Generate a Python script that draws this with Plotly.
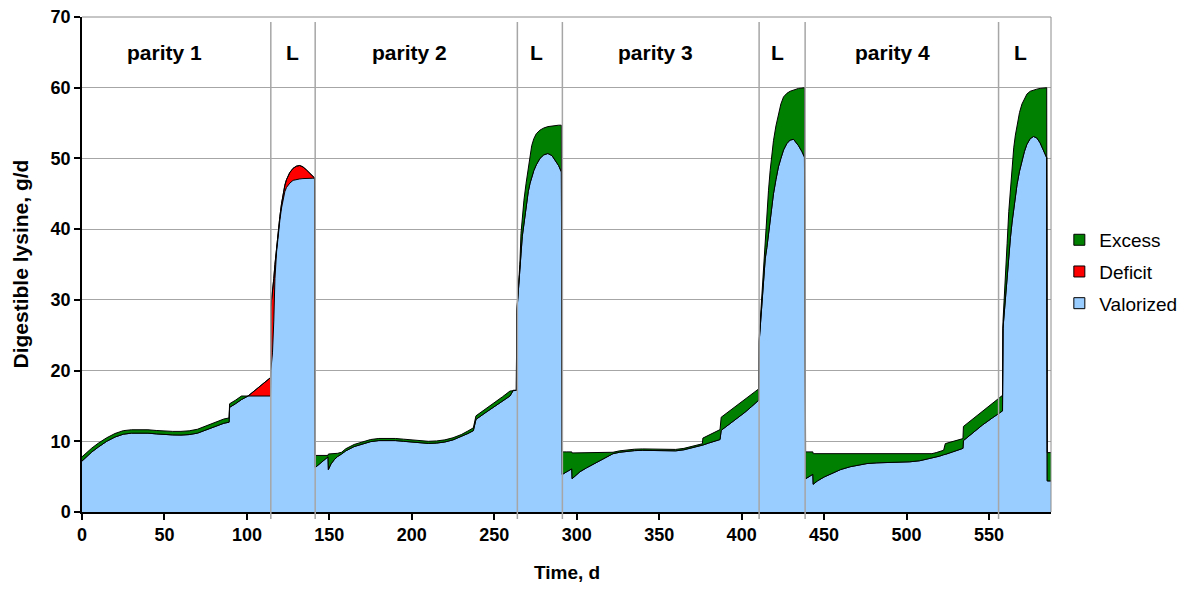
import plotly.graph_objects as go

# ---------------- data ----------------
# time in days
day = [
    # parity 1 gestation
    0, 3, 6, 10, 15, 20, 25, 30, 35, 40, 45, 50, 55, 60, 65, 70, 75, 80, 83.6, 86,
    89.2, 89.5, 93, 96.7, 100.7, 105, 110, 114.3,
    # lactation 1
    114.5, 115.5, 116.3, 117, 118, 119, 120, 121, 122, 123, 124, 126, 128, 130, 132,
    134, 136, 138, 140, 141.2,
    # parity 2 gestation
    141.5, 145, 149.2, 149.4, 151, 153, 155, 157.4, 160, 165, 170, 175, 180, 185, 190,
    195, 200, 205, 210, 215, 220, 225, 230, 234, 237.3, 238.9, 245, 250, 255, 259.5,
    261.5, 263.4,
    # lactation 2
    263.6, 264.5, 265.5, 266.2, 267.0, 268.0, 269.3, 270.6, 271.7, 272.7, 274, 275.5,
    277.7, 280, 282.5, 285, 287.5, 289, 290.7,
    # parity 3 gestation
    291.2, 294, 297.0, 297.2, 300, 302, 306, 310, 313, 316, 319, 322, 326, 330, 335,
    340, 345, 350, 355, 360, 365, 370, 374, 376.2, 376.5, 380, 384, 386.9, 387.6, 392,
    397, 402, 406, 410.3,
    # lactation 3
    410.6, 411.5, 412.3, 413.3, 414.3, 415.3, 416.3, 417.3, 418.3, 419.3, 420.8, 422.3,
    423.8, 425.4, 427.4, 429.4, 431.5, 434.5, 436.5, 438.1,
    # parity 4 gestation
    438.8, 441, 443.2, 443.4, 446, 450, 455.7, 460, 465.8, 470, 476, 482, 488, 496, 502,
    508, 512, 515.4, 518, 520, 522.5, 523.5, 528, 532.6, 534.2, 534.5, 540, 546, 552,
    558.2,
    # lactation 4 (+ start of next cycle)
    558.5, 559.3, 560.0, 561.0, 562.0, 563.0, 564.0, 565.0, 566.0, 567.0, 568.5, 570.0,
    571.5, 573.0, 575.0, 577.0, 579.0, 581.0, 583.0, 585.0, 585.3, 587.6,
]

# requirement (g/d digestible lysine)
requirement = [
    7.2, 7.9, 8.5, 9.2, 10.0, 10.6, 11.0, 11.15, 11.2, 11.15, 11.05, 10.95, 10.9, 10.88,
    10.95, 11.15, 11.6, 12.05, 12.4, 12.55, 12.7, 14.8, 15.3, 15.9, 16.4, 17.2, 18.1, 19.0,
    29, 31, 33, 35, 37.5, 39.8, 41.8, 43.6, 45.0, 46.2, 47.0, 48.0, 48.6, 48.9, 49.0,
    48.8, 48.4, 47.9, 47.4, 47.2,
    6.3, 7.0, 7.8, 6.0, 6.8, 7.4, 7.85, 8.2, 8.65, 9.25, 9.65, 9.95, 10.1, 10.15, 10.1,
    10.0, 9.9, 9.8, 9.7, 9.75, 9.9, 10.2, 10.65, 11.1, 11.5, 13.1, 14.1, 14.9, 15.7, 16.4,
    17.2, 17.2,
    28.0, 30.5, 34.0, 36.5, 39.0, 41.0, 43.5, 45.3, 46.5, 47.4, 48.3, 49.1, 50.0, 50.5,
    50.7, 50.4, 49.6, 49.0, 48.1,
    5.3, 5.7, 6.1, 4.7, 5.3, 5.7, 6.25, 6.75, 7.15, 7.6, 7.95, 8.25, 8.45, 8.58, 8.68,
    8.72, 8.7, 8.65, 8.62, 8.65, 8.8, 9.05, 9.3, 9.45, 9.47, 9.75, 10.05, 10.25, 11.55,
    12.3, 13.2, 14.1, 14.9, 15.8,
    24.0, 27.0, 30.0, 33.5, 35.8, 37.4, 39.5, 41.5, 43.3, 45.0, 47.0, 48.8, 50.0, 51.2,
    52.1, 52.6, 52.7, 51.8, 51.0, 50.2,
    4.7, 5.0, 5.33, 3.92, 4.4, 4.95, 5.6, 6.0, 6.4, 6.62, 6.85, 6.95, 7.0, 7.02, 7.1,
    7.25, 7.45, 7.65, 7.8, 7.9, 8.1, 8.15, 8.5, 8.9, 9.0, 10.1, 11.2, 12.3, 13.3, 14.3,
    26.0, 28.5, 30.5, 33.8, 36.5, 38.8, 41.0, 43.0, 44.8, 46.3, 48.2, 49.8, 51.0, 52.0,
    52.8, 53.1, 52.9, 52.2, 51.2, 50.1, 4.4, 4.4,
]

# supply (g/d digestible lysine)
supply = [
    7.8, 8.45, 9.05, 9.75, 10.5, 11.1, 11.5, 11.63, 11.68, 11.63, 11.53, 11.45, 11.4, 11.4,
    11.48, 11.7, 12.15, 12.65, 13.0, 13.15, 13.3, 15.3, 15.8, 16.4, 16.4, 16.4, 16.4, 16.4,
    20, 22.5, 27, 33, 36.8, 39.4, 41.3, 43.0, 44.3, 45.3, 45.9, 46.5, 46.9, 47.05, 47.1,
    47.15, 47.2, 47.2, 47.2, 47.2,
    8.0, 8.0, 8.0, 8.2, 8.2, 8.25, 8.3, 8.45, 8.95, 9.55, 9.95, 10.25, 10.4, 10.45, 10.4,
    10.3, 10.2, 10.1, 10.0, 10.05, 10.2, 10.5, 10.95, 11.45, 11.9, 13.6, 14.6, 15.4, 16.3,
    17.1, 17.2, 17.2,
    28.2, 31.0, 35.0, 39.4, 42.0, 44.1, 46.5, 48.8, 50.5, 51.8, 52.8, 53.5, 54.0, 54.3,
    54.5, 54.6, 54.7, 54.7, 54.7,
    8.5, 8.5, 8.5, 8.35, 8.35, 8.35, 8.35, 8.35, 8.35, 8.35, 8.35, 8.45, 8.65, 8.78, 8.88,
    8.92, 8.9, 8.85, 8.82, 8.85, 9.0, 9.25, 9.5, 9.65, 10.45, 10.85, 11.35, 11.65, 13.4,
    14.2, 15.1, 16.0, 16.7, 17.4,
    24.5, 27.8, 30.5, 35.0, 39.3, 42.5, 45.5, 48.3, 50.6, 52.5, 54.6, 56.3, 57.7, 58.7,
    59.2, 59.5, 59.7, 59.9, 59.95, 60.0,
    8.5, 8.5, 8.5, 8.25, 8.25, 8.25, 8.25, 8.25, 8.25, 8.25, 8.25, 8.25, 8.25, 8.25, 8.25,
    8.25, 8.25, 8.25, 8.4, 8.55, 8.73, 9.67, 9.95, 10.3, 10.38, 12.1, 13.1, 14.2, 15.3,
    16.5,
    27.0, 30.0, 33.0, 38.0, 42.5, 46.0, 49.0, 51.5, 53.3, 54.8, 56.5, 57.7, 58.5, 59.1,
    59.5, 59.7, 59.8, 59.9, 59.95, 60.0, 8.4, 8.4,
]

assert len(day) == len(requirement) == len(supply)

series_names = ["Excess", "Deficit", "Valorized"]
phase_bounds = [114.5, 141.4, 264.0, 291.3, 410.6, 438.5, 555.8]
phase_labels = ["parity 1", "L", "parity 2", "L", "parity 3", "L", "parity 4", "L"]
x_ticks = list(range(0, 551, 50))
y_ticks = list(range(0, 71, 10))

# stacked components
valorized = [min(r, s) for r, s in zip(requirement, supply)]
deficit = [max(r - s, 0.0) for r, s in zip(requirement, supply)]
excess = [max(s - r, 0.0) for r, s in zip(requirement, supply)]

# ---------------- styling ----------------
FONT = "Arial, 'Liberation Sans', Helvetica, sans-serif"
colors = {"Valorized": "#99CCFF", "Deficit": "#FF0000", "Excess": "#008000"}
label_x = [50.2, 127.8, 198.8, 275.9, 347.5, 421.5, 491.4, 569.0]

fig = go.Figure()
for name, vals in [("Valorized", valorized), ("Deficit", deficit), ("Excess", excess)]:
    fig.add_trace(go.Scatter(
        x=day, y=vals, name=name, stackgroup="lys", mode="lines",
        line=dict(color="black", width=1), fillcolor=colors[name],
        showlegend=False, hoverinfo="skip",
    ))

# legend entries (square swatches)
for name in series_names:
    fig.add_trace(go.Scatter(
        x=[None], y=[None], mode="markers", name=name, legendgroup=name,
        marker=dict(symbol="square", size=11, color=colors[name],
                    line=dict(color="black", width=1)),
    ))

shapes = []
for xb in phase_bounds:
    shapes.append(dict(type="line", xref="x", yref="paper", x0=xb, x1=xb,
                       y0=-0.014, y1=0.99, line=dict(color="#a6a6a6", width=1.5),
                       layer="above"))
# top / right plot-area border (gray)
shapes.append(dict(type="line", xref="paper", yref="paper", x0=0, x1=1, y0=1, y1=1,
                   line=dict(color="#8c8c8c", width=1), layer="above"))
shapes.append(dict(type="line", xref="paper", yref="paper", x0=1, x1=1, y0=0, y1=1,
                   line=dict(color="#8c8c8c", width=1), layer="above"))

annotations = []
for lx, lt in zip(label_x, phase_labels):
    annotations.append(dict(x=lx, y=65, xref="x", yref="y", text=lt, showarrow=False,
                            font=dict(family=FONT, size=21, color="black", weight="bold")))
annotations.append(dict(x=0, y=0.5, xref="paper", yref="paper", xshift=-62,
                        xanchor="center", yanchor="middle",
                        text="Digestible lysine, g/d", textangle=-90, showarrow=False,
                        font=dict(family=FONT, size=21, color="black", weight="bold")))
annotations.append(dict(x=0.5, y=0, xref="paper", yref="paper", yshift=-60,
                        xanchor="center", yanchor="middle",
                        text="Time, d", showarrow=False,
                        font=dict(family=FONT, size=19, color="black", weight="bold")))

# the page has an 8 px body margin, so the figure is 8 px smaller each way
fig.update_layout(
    width=1180, height=582,
    margin=dict(l=74, r=137, t=9, b=78, autoexpand=False),
    paper_bgcolor="white", plot_bgcolor="white",
    font=dict(family=FONT, color="black"),
    shapes=shapes, annotations=annotations,
    showlegend=True,
    legend=dict(x=1.0086, xanchor="left", y=0.485, yanchor="middle",
                traceorder="grouped", tracegroupgap=4,
                font=dict(family=FONT, size=19, color="black"),
                bgcolor="rgba(0,0,0,0)", itemwidth=30),
    xaxis=dict(range=[0, 587.6], tickvals=x_ticks, ticks="outside", ticklen=6,
               tickwidth=1.5, tickcolor="black", showline=True, linecolor="black",
               linewidth=1.5, showgrid=False, zeroline=False,
               ticklabeloverflow="allow",
               tickfont=dict(family=FONT, size=18, color="black", weight="bold")),
    yaxis=dict(range=[0, 70], tickvals=y_ticks, ticks="outside", ticklen=6,
               tickwidth=1.5, tickcolor="black", showline=True, linecolor="black",
               linewidth=1.5, showgrid=True, gridcolor="#a6a6a6", gridwidth=1,
               zeroline=False, ticklabeloverflow="allow",
               tickfont=dict(family=FONT, size=18, color="black", weight="bold")),
    hovermode=False,
)

fig.write_html("out.html")
